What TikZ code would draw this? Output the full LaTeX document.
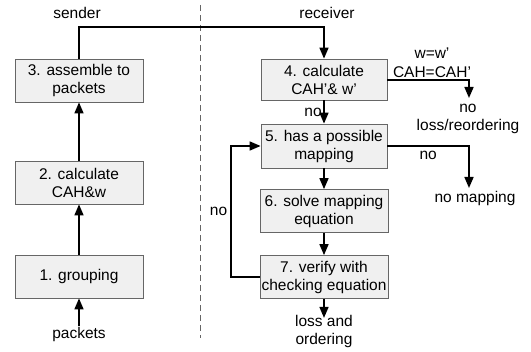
\documentclass[tikz,border=0pt]{standalone}
\usepackage{fontspec}
\setmainfont{Liberation Sans}
\usetikzlibrary{arrows.meta}
\begin{document}
\begin{tikzpicture}[x=1pt,y=-1pt,
  every node/.style={font=\fontsize{15.5}{18}\selectfont, inner sep=0pt},
  stepbox/.style={draw=black!60, line width=0.8pt, fill=black!6, minimum width=128, minimum height=43, align=center},
  conn/.style={line width=1.6pt, -{Triangle[length=11pt,width=9pt]}},
  plain/.style={line width=1.6pt}]
\useasboundingbox (0,0) rectangle (531,352);
\draw[black!60, line width=0.8pt, dash pattern=on 6pt off 4pt] (200,5) -- (200,338);
\node (snd) at (77,13) {sender};
\node (rcv) at (327,13) {receiver};
\node[stepbox] (b3) at (79,80.5) {3. assemble to\\packets};
\node[stepbox] (b2) at (79,182.5) {2. calculate\\CAH\&w};
\node[stepbox] (b1) at (79,276.5) {1. grouping};
\node (pk) at (79,334) {packets};
\node[stepbox, minimum width=126, minimum height=41] (b4) at (324,79.5) {4. calculate\\CAH'\& w'};
\node[stepbox, minimum width=126, minimum height=44] (b5) at (324,146) {5. has a possible\\mapping};
\node[stepbox] (b6) at (324,211) {6. solve mapping\\equation};
\node[stepbox] (b7) at (324,277) {7. verify with\\checking equation};
\node[align=center] (nl) at (468,119) {no\\loss/reordering};
\node (nm) at (475,198) {no mapping};
\node[align=center] (lo) at (324,331) {loss and\\ordering};
\coordinate (c1) at (79,27);
\coordinate (c2) at (324,27);
\coordinate (c3) at (469,80);
\coordinate (c4) at (469,146);
\coordinate (c5) at (231,277);
\coordinate (c6) at (231,146);
\draw[conn] (pk.north) ++(0,-1) -- (b1.south);
\draw[conn] (b1) -- (b2);
\draw[conn] (b2) -- (b3);
\draw[conn] (b3.north) -- (c1) -- (c2) -- (b4.north);
\draw[conn] (b4) -- node[left=1.5pt, pos=0.5] {no} (b5);
\draw[conn] (b5) -- (b6);
\draw[conn] (b6) -- (b7);
\draw[conn] (b7.south) -- ++(0,19);
\draw[conn] (b4.east |- c3) -- (c3) -- ++(0,18);
\node (eq1) at (432,53) {w=w'};
\node (eq2) at (432,72) {CAH=CAH'};
\draw[conn] (b5.east |- c4) -- node[below=4pt, pos=0.5] {no} (c4) -- ++(0,42);
\draw[conn] (b7.west) -- (c5) -- node[left=3pt, pos=0.5] {no} (c6) -- (b5.west);
\end{tikzpicture}
\end{document}
